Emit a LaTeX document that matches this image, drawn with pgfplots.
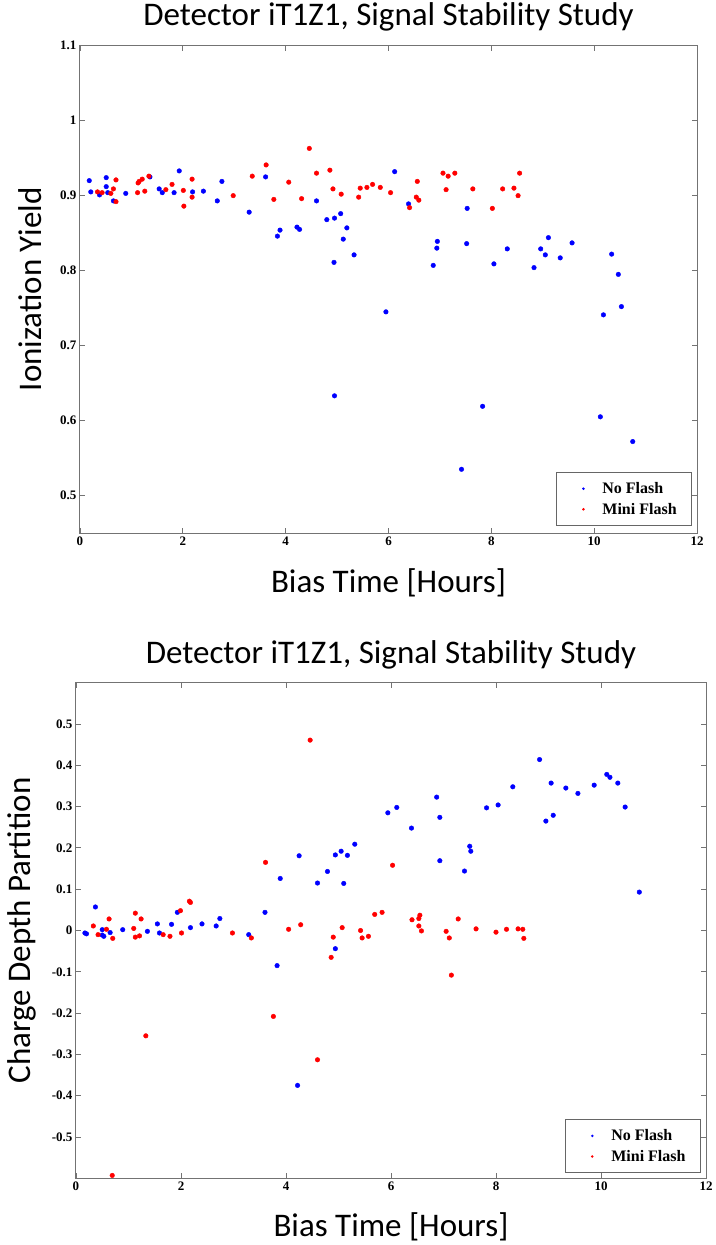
\documentclass[border=0pt]{standalone}
\usepackage{fontspec}
\setmainfont{Liberation Serif}
\newfontfamily\carlito{Carlito}
\usepackage{pgfplots}
\pgfplotsset{compat=1.18}

\pgfplotsset{
  stab/.style={
    scale only axis, anchor=south west,
    xmin=0, xmax=12, xtick={0,2,4,6,8,10,12},
    tick align=inside, major tick length=5pt,
    axis line style={black!55, line width=1pt},
    every tick/.style={black!55, line width=0.9pt},
    /pgf/number format/assume math mode=true,
    ticklabel style={font=\fontsize{13}{13}\selectfont\bfseries},
    title style={font=\carlito\fontsize{33}{36}\selectfont, anchor=center, yshift=-6pt},
    label style={font=\carlito\fontsize{33}{36}\selectfont},
    legend style={draw=black!60, line width=0.8pt, font=\fontsize{16}{18}\selectfont\bfseries,
      anchor=south east, cells={anchor=west}, row sep=4pt, inner xsep=13pt, inner ysep=8pt},
    legend image code/.code={\path[draw=none, fill=none] (-14pt,0pt) -- (17pt,0pt);
      \fill[##1, draw=none] (0pt,0pt) circle (1.4pt);},
  },
  pt/.style={only marks, mark=*, mark size=2.3pt, color=#1},
}

\begin{document}
\begin{tikzpicture}
\path[use as bounding box] (0pt,0pt) rectangle (715pt,-1245pt);

\begin{axis}[stab,
  at={(80pt,-533pt)}, width=617pt, height=487.3pt,
  ymin=0.45, ymax=1.1, ytick={0.5,0.6,0.7,0.8,0.9,1,1.1},
  title={Detector iT1Z1, Signal Stability Study},
  title style={at={(axis description cs:0.5,1.059)}},
  xlabel={Bias Time [Hours]},
  xlabel style={at={(axis description cs:0.5,-0.103)}, anchor=center},
  ylabel={Ionization Yield},
  ylabel style={at={(axis description cs:-0.081,0.5)}, anchor=center},
  legend style={at={(axis description cs:0.992,0.0144)}},
]
\addplot[pt=blue] coordinates {
(0.18,0.920) (0.21,0.905) (0.38,0.901) (0.51,0.924) (0.51,0.912) (0.54,0.904)
(0.65,0.893) (0.89,0.903) (1.36,0.925) (1.54,0.909) (1.60,0.904) (1.83,0.904)
(1.93,0.933) (2.19,0.905) (2.40,0.906) (2.67,0.893) (2.76,0.919) (3.29,0.878)
(3.61,0.925) (3.84,0.846) (3.89,0.854) (4.22,0.858) (4.27,0.855) (4.60,0.893)
(4.80,0.868) (4.94,0.811) (4.95,0.870) (4.95,0.633) (5.07,0.876) (5.12,0.842)
(5.19,0.857) (5.33,0.821) (5.95,0.745) (6.12,0.932) (6.39,0.889) (6.87,0.807)
(6.94,0.830) (6.95,0.839) (7.42,0.535) (7.52,0.836) (7.53,0.883) (7.83,0.619)
(8.05,0.809) (8.31,0.829) (8.83,0.804) (8.96,0.829) (9.05,0.821) (9.11,0.844)
(9.34,0.817) (9.57,0.837) (10.12,0.605) (10.18,0.741) (10.34,0.822) (10.47,0.795)
(10.53,0.752) (10.75,0.572)
};
\addlegendentry{No Flash}
\addplot[pt=red] coordinates {
(0.34,0.905) (0.43,0.904) (0.60,0.903) (0.65,0.909) (0.70,0.921) (0.70,0.892)
(1.12,0.904) (1.13,0.917) (1.15,0.919) (1.21,0.922) (1.26,0.906) (1.34,0.926)
(1.67,0.908) (1.79,0.915) (2.01,0.907) (2.02,0.886) (2.18,0.922) (2.18,0.898)
(2.98,0.900) (3.35,0.926) (3.62,0.941) (3.77,0.895) (4.06,0.918) (4.31,0.896)
(4.46,0.963) (4.60,0.930) (4.86,0.934) (4.92,0.909) (5.08,0.902) (5.42,0.898)
(5.45,0.910) (5.58,0.911) (5.69,0.915) (5.84,0.911) (6.04,0.904) (6.41,0.884)
(6.54,0.898) (6.56,0.919) (6.59,0.894) (7.06,0.930) (7.12,0.908) (7.16,0.926)
(7.29,0.930) (7.64,0.909) (8.02,0.883) (8.22,0.909) (8.44,0.910) (8.52,0.900)
(8.55,0.930)
};
\addlegendentry{Mini Flash}
\end{axis}

\begin{axis}[stab,
  at={(76pt,-1178.3pt)}, width=630pt, height=495.6pt,
  ymin=-0.6, ymax=0.6, ytick={-0.5,-0.4,-0.3,-0.2,-0.1,0,0.1,0.2,0.3,0.4,0.5},
  title={Detector iT1Z1, Signal Stability Study},
  title style={at={(axis description cs:0.5,1.056)}},
  xlabel={Bias Time [Hours]},
  xlabel style={at={(axis description cs:0.5,-0.098)}, anchor=center},
  ylabel={Charge Depth Partition},
  ylabel style={at={(axis description cs:-0.086,0.5)}, anchor=center},
  legend style={at={(axis description cs:0.992,0.0103)}},
]
\addplot[pt=blue] coordinates {
(0.17,-0.006) (0.20,-0.008) (0.37,0.057) (0.50,0.002) (0.50,-0.011) (0.53,-0.014)
(0.65,-0.005) (0.89,0.002) (1.36,-0.002) (1.55,0.016) (1.59,-0.006) (1.82,0.015)
(1.93,0.044) (2.18,0.007) (2.40,0.016) (2.67,0.011) (2.74,0.029) (3.29,-0.010)
(3.60,0.044) (3.83,-0.085) (3.89,0.126) (4.22,-0.375) (4.25,0.181) (4.60,0.115)
(4.79,0.143) (4.94,0.183) (4.94,-0.044) (5.05,0.192) (5.10,0.114) (5.17,0.182)
(5.31,0.209) (5.94,0.285) (6.11,0.298) (6.39,0.248) (6.87,0.323) (6.93,0.274)
(6.93,0.169) (7.40,0.144) (7.50,0.204) (7.52,0.192) (7.82,0.297) (8.04,0.304)
(8.32,0.348) (8.83,0.414) (8.95,0.265) (9.05,0.357) (9.09,0.279) (9.33,0.345)
(9.56,0.332) (9.87,0.352) (10.11,0.378) (10.17,0.371) (10.32,0.357) (10.46,0.299)
(10.73,0.093)
};
\addlegendentry{No Flash}
\addplot[pt=red] coordinates {
(0.33,0.011) (0.42,-0.010) (0.58,0.003) (0.63,0.028) (0.69,-0.593) (0.70,-0.019)
(1.10,0.005) (1.13,0.042) (1.13,-0.016) (1.21,-0.013) (1.24,0.028) (1.33,-0.255)
(1.66,-0.010) (1.79,-0.014) (1.99,0.048) (2.01,-0.006) (2.16,0.071) (2.18,0.068)
(2.98,-0.006) (3.34,-0.018) (3.61,0.165) (3.76,-0.208) (4.05,0.003) (4.28,0.014)
(4.46,0.461) (4.60,-0.313) (4.86,-0.065) (4.90,-0.016) (5.07,0.007) (5.42,0.000)
(5.45,-0.018) (5.57,-0.014) (5.69,0.039) (5.83,0.044) (6.03,0.158) (6.40,0.026)
(6.53,0.029) (6.53,0.011) (6.55,0.037) (6.58,-0.001) (7.05,-0.002) (7.11,-0.018)
(7.15,-0.108) (7.28,0.028) (7.62,0.004) (8.00,-0.004) (8.20,0.003) (8.42,0.004)
(8.51,0.003) (8.53,-0.019)
};
\addlegendentry{Mini Flash}
\end{axis}
\end{tikzpicture}
\end{document}
